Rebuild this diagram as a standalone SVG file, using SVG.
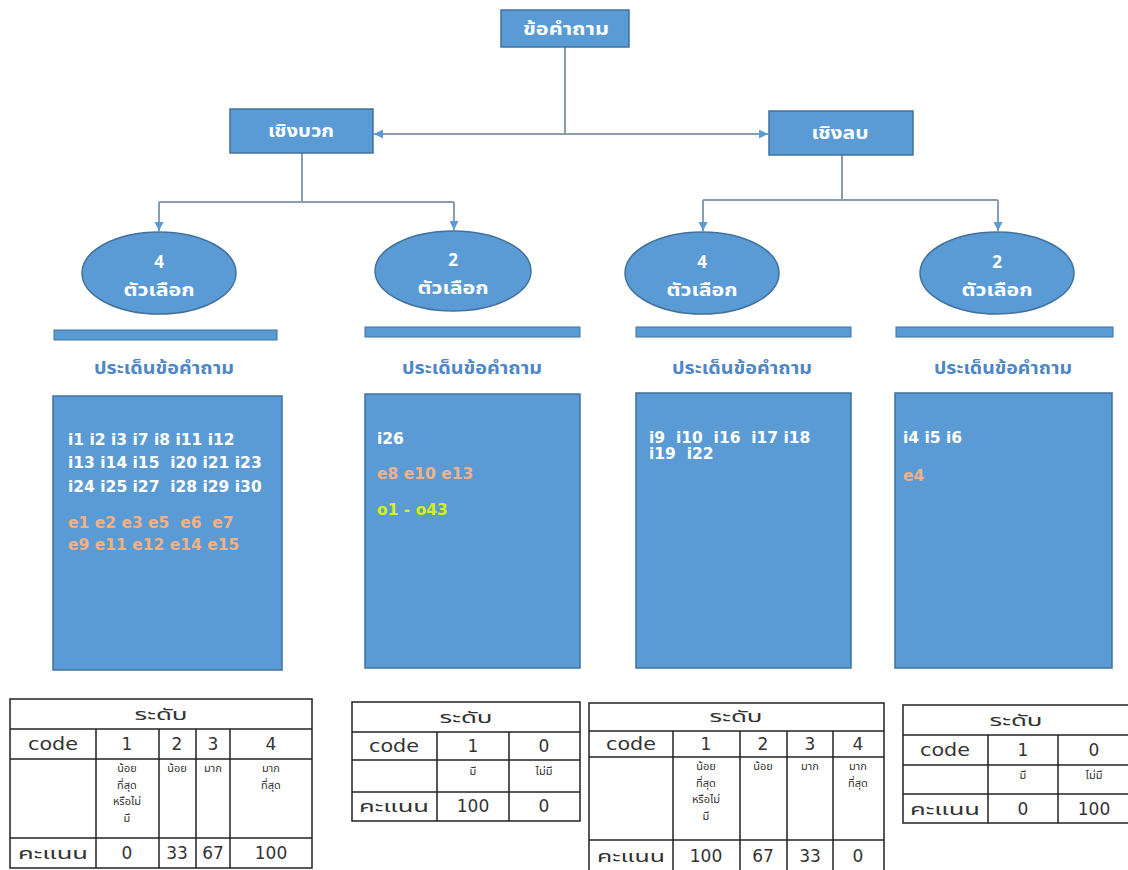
<svg xmlns="http://www.w3.org/2000/svg" width="1128" height="870" viewBox="0 0 1128 870">
<style>
.node{fill:#5b9bd5;stroke:#41719c;stroke-width:1.5}
.bar{fill:#5b9bd5;stroke:#41719c;stroke-width:1}
.nt{font-family:Tahoma,"Noto Sans Thai","Leelawadee UI","DejaVu Sans",sans-serif;font-size:17px;font-weight:bold;fill:#ffffff;text-anchor:middle}
.lbl{font-family:Tahoma,"Noto Sans Thai","Leelawadee UI","DejaVu Sans",sans-serif;font-size:17px;font-weight:bold;fill:#4f86c6;text-anchor:middle}
.it,.et,.ot{font-family:"DejaVu Sans",Tahoma,sans-serif;font-size:15.5px;font-weight:bold;white-space:pre}
.it{fill:#ffffff}
.et{fill:#f4b183}
.ot{fill:#d4f20c}
.conn{stroke:#8a9db0;stroke-width:2;fill:none}
.cell{fill:#ffffff;stroke:#222222;stroke-width:1.5}
.tl{stroke:#222222;stroke-width:1.5}
.tt{font-family:"DejaVu Sans",Tahoma,"Noto Sans Thai",sans-serif;font-size:17px;fill:#333333;text-anchor:middle}
.th{font-family:Tahoma,"Noto Sans Thai","DejaVu Sans",sans-serif;font-size:16px;fill:#333333;text-anchor:middle}
.ts{font-family:Tahoma,"Noto Sans Thai","DejaVu Sans",sans-serif;font-size:11px;fill:#333333;text-anchor:middle}
</style>
<defs>
<marker id="arr" viewBox="0 0 10 10" refX="10" refY="5" markerWidth="9" markerHeight="9" markerUnits="userSpaceOnUse" orient="auto-start-reverse">
<path d="M0,0 L10,5 L0,10 z" fill="#5b9bd5"/>
</marker>
</defs>
<rect x="0" y="0" width="1128" height="870" fill="#ffffff"/>

<g id="connectors">
<line class="conn" x1="565" y1="47" x2="565" y2="134"/>
<line class="conn" x1="374" y1="134" x2="768" y2="134" marker-start="url(#arr)" marker-end="url(#arr)"/>
<line class="conn" x1="302" y1="153" x2="302" y2="202"/>
<line class="conn" x1="159" y1="202" x2="454" y2="202"/>
<line class="conn" x1="159" y1="202" x2="159" y2="231" marker-end="url(#arr)"/>
<line class="conn" x1="454" y1="202" x2="454" y2="230" marker-end="url(#arr)"/>
<line class="conn" x1="842" y1="155" x2="842" y2="200"/>
<line class="conn" x1="703" y1="200" x2="998" y2="200"/>
<line class="conn" x1="703" y1="200" x2="703" y2="231" marker-end="url(#arr)"/>
<line class="conn" x1="998" y1="200" x2="998" y2="231" marker-end="url(#arr)"/>
</g>

<g id="root">
<rect class="node" x="501" y="10" width="128" height="37"/>
<text class="nt" x="566" y="35" textLength="86" lengthAdjust="spacingAndGlyphs">ข้อคำถาม</text>
</g>
<g id="positive">
<rect class="node" x="230" y="109" width="143" height="44"/>
<text class="nt" x="301" y="137" textLength="66" lengthAdjust="spacingAndGlyphs">เชิงบวก</text>
</g>
<g id="negative">
<rect class="node" x="769" y="111" width="144" height="44"/>
<text class="nt" x="840" y="139" textLength="57" lengthAdjust="spacingAndGlyphs">เชิงลบ</text>
</g>

<g id="opt1">
<ellipse class="node" cx="159" cy="273" rx="77" ry="41"/>
<text class="nt" x="159" y="268">4</text>
<text class="nt" x="159" y="296" textLength="71" lengthAdjust="spacingAndGlyphs">ตัวเลือก</text>
</g>
<g id="opt2">
<ellipse class="node" cx="453" cy="271" rx="78" ry="40"/>
<text class="nt" x="453" y="266">2</text>
<text class="nt" x="453" y="294" textLength="71" lengthAdjust="spacingAndGlyphs">ตัวเลือก</text>
</g>
<g id="opt3">
<ellipse class="node" cx="702" cy="273" rx="77" ry="41"/>
<text class="nt" x="702" y="268">4</text>
<text class="nt" x="702" y="296" textLength="71" lengthAdjust="spacingAndGlyphs">ตัวเลือก</text>
</g>
<g id="opt4">
<ellipse class="node" cx="997" cy="273" rx="77" ry="41"/>
<text class="nt" x="997" y="268">2</text>
<text class="nt" x="997" y="296" textLength="71" lengthAdjust="spacingAndGlyphs">ตัวเลือก</text>
</g>

<g id="bars">
<rect class="bar" x="54" y="330" width="223" height="10"/>
<rect class="bar" x="365" y="327" width="215" height="10"/>
<rect class="bar" x="636" y="327" width="215" height="10"/>
<rect class="bar" x="896" y="327" width="217" height="10"/>
</g>

<g id="labels">
<text class="lbl" x="164" y="374" textLength="140" lengthAdjust="spacingAndGlyphs">ประเด็นข้อคำถาม</text>
<text class="lbl" x="472" y="374" textLength="140" lengthAdjust="spacingAndGlyphs">ประเด็นข้อคำถาม</text>
<text class="lbl" x="742" y="374" textLength="140" lengthAdjust="spacingAndGlyphs">ประเด็นข้อคำถาม</text>
<text class="lbl" x="1003" y="374" textLength="138" lengthAdjust="spacingAndGlyphs">ประเด็นข้อคำถาม</text>
</g>

<g id="items1">
<rect class="node" x="53" y="396" width="229" height="274" stroke-width="1"/>
<text class="it" x="68" y="445">i1 i2 i3 i7 i8 i11 i12</text>
<text class="it" x="68" y="468">i13 i14 i15  i20 i21 i23</text>
<text class="it" x="68" y="492">i24 i25 i27  i28 i29 i30</text>
<text class="et" x="68" y="528">e1 e2 e3 e5  e6  e7</text>
<text class="et" x="68" y="550">e9 e11 e12 e14 e15</text>
</g>
<g id="items2">
<rect class="node" x="365" y="394" width="215" height="274" stroke-width="1"/>
<text class="it" x="377" y="444">i26</text>
<text class="et" x="377" y="479">e8 e10 e13</text>
<text class="ot" x="377" y="515">o1 - o43</text>
</g>
<g id="items3">
<rect class="node" x="636" y="393" width="215" height="275" stroke-width="1"/>
<text class="it" x="649" y="443">i9  i10  i16  i17 i18</text>
<text class="it" x="649" y="459">i19  i22</text>
</g>
<g id="items4">
<rect class="node" x="895" y="393" width="217" height="275" stroke-width="1"/>
<text class="it" x="903" y="443">i4 i5 i6</text>
<text class="et" x="903" y="481">e4</text>
</g>

<g id="table1">
<rect class="cell" x="10" y="699" width="302" height="169"/>
<line class="tl" x1="10" y1="729" x2="312" y2="729"/>
<line class="tl" x1="10" y1="759" x2="312" y2="759"/>
<line class="tl" x1="10" y1="838" x2="312" y2="838"/>
<line class="tl" x1="96" y1="729" x2="96" y2="868"/>
<line class="tl" x1="159" y1="729" x2="159" y2="868"/>
<line class="tl" x1="196" y1="729" x2="196" y2="868"/>
<line class="tl" x1="230" y1="729" x2="230" y2="868"/>
<text class="th" x="161" y="720" textLength="53" lengthAdjust="spacingAndGlyphs">ระดับ</text>
<text class="tt" x="53" y="750" textLength="50" lengthAdjust="spacingAndGlyphs">code</text>
<text class="tt" x="127" y="750">1</text>
<text class="tt" x="177" y="750">2</text>
<text class="tt" x="213" y="750">3</text>
<text class="tt" x="271" y="750">4</text>
<text class="ts" x="127" y="772">น้อย</text>
<text class="ts" x="127" y="789">ที่สุด</text>
<text class="ts" x="127" y="805">หรือไม่</text>
<text class="ts" x="127" y="822">มี</text>
<text class="ts" x="177" y="772">น้อย</text>
<text class="ts" x="213" y="772">มาก</text>
<text class="ts" x="271" y="772">มาก</text>
<text class="ts" x="271" y="789">ที่สุด</text>
<text class="th" x="53" y="859" textLength="70" lengthAdjust="spacingAndGlyphs">คะแนน</text>
<text class="tt" x="127" y="859">0</text>
<text class="tt" x="177" y="859">33</text>
<text class="tt" x="213" y="859">67</text>
<text class="tt" x="271" y="859">100</text>
</g>

<g id="table2">
<rect class="cell" x="352" y="702" width="228" height="119"/>
<line class="tl" x1="352" y1="732" x2="580" y2="732"/>
<line class="tl" x1="352" y1="760" x2="580" y2="760"/>
<line class="tl" x1="352" y1="792" x2="580" y2="792"/>
<line class="tl" x1="437" y1="732" x2="437" y2="821"/>
<line class="tl" x1="509" y1="732" x2="509" y2="821"/>
<text class="th" x="466" y="723" textLength="53" lengthAdjust="spacingAndGlyphs">ระดับ</text>
<text class="tt" x="394" y="752" textLength="50" lengthAdjust="spacingAndGlyphs">code</text>
<text class="tt" x="473" y="752">1</text>
<text class="tt" x="544" y="752">0</text>
<text class="ts" x="473" y="775">มี</text>
<text class="ts" x="544" y="775">ไม่มี</text>
<text class="th" x="394" y="812" textLength="70" lengthAdjust="spacingAndGlyphs">คะแนน</text>
<text class="tt" x="473" y="812">100</text>
<text class="tt" x="544" y="812">0</text>
</g>

<g id="table3">
<rect class="cell" x="589" y="703" width="295" height="177"/>
<line class="tl" x1="589" y1="731" x2="884" y2="731"/>
<line class="tl" x1="589" y1="757" x2="884" y2="757"/>
<line class="tl" x1="589" y1="840" x2="884" y2="840"/>
<line class="tl" x1="673" y1="731" x2="673" y2="880"/>
<line class="tl" x1="740" y1="731" x2="740" y2="880"/>
<line class="tl" x1="787" y1="731" x2="787" y2="880"/>
<line class="tl" x1="833" y1="731" x2="833" y2="880"/>
<text class="th" x="736" y="722" textLength="53" lengthAdjust="spacingAndGlyphs">ระดับ</text>
<text class="tt" x="631" y="750" textLength="50" lengthAdjust="spacingAndGlyphs">code</text>
<text class="tt" x="706" y="750">1</text>
<text class="tt" x="763" y="750">2</text>
<text class="tt" x="810" y="750">3</text>
<text class="tt" x="858" y="750">4</text>
<text class="ts" x="706" y="770">น้อย</text>
<text class="ts" x="706" y="787">ที่สุด</text>
<text class="ts" x="706" y="803">หรือไม่</text>
<text class="ts" x="706" y="820">มี</text>
<text class="ts" x="763" y="770">น้อย</text>
<text class="ts" x="810" y="770">มาก</text>
<text class="ts" x="858" y="770">มาก</text>
<text class="ts" x="858" y="787">ที่สุด</text>
<text class="th" x="631" y="862" textLength="68" lengthAdjust="spacingAndGlyphs">คะแนน</text>
<text class="tt" x="706" y="862">100</text>
<text class="tt" x="763" y="862">67</text>
<text class="tt" x="810" y="862">33</text>
<text class="tt" x="858" y="862">0</text>
</g>

<g id="table4">
<rect class="cell" x="903" y="705" width="228" height="118"/>
<line class="tl" x1="903" y1="735" x2="1131" y2="735"/>
<line class="tl" x1="903" y1="765" x2="1131" y2="765"/>
<line class="tl" x1="903" y1="794" x2="1131" y2="794"/>
<line class="tl" x1="988" y1="735" x2="988" y2="823"/>
<line class="tl" x1="1058" y1="735" x2="1058" y2="823"/>
<text class="th" x="1016" y="726" textLength="53" lengthAdjust="spacingAndGlyphs">ระดับ</text>
<text class="tt" x="945" y="756" textLength="50" lengthAdjust="spacingAndGlyphs">code</text>
<text class="tt" x="1023" y="756">1</text>
<text class="tt" x="1094" y="756">0</text>
<text class="ts" x="1023" y="779">มี</text>
<text class="ts" x="1094" y="779">ไม่มี</text>
<text class="th" x="945" y="815" textLength="70" lengthAdjust="spacingAndGlyphs">คะแนน</text>
<text class="tt" x="1023" y="815">0</text>
<text class="tt" x="1094" y="815">100</text>
</g>
</svg>
